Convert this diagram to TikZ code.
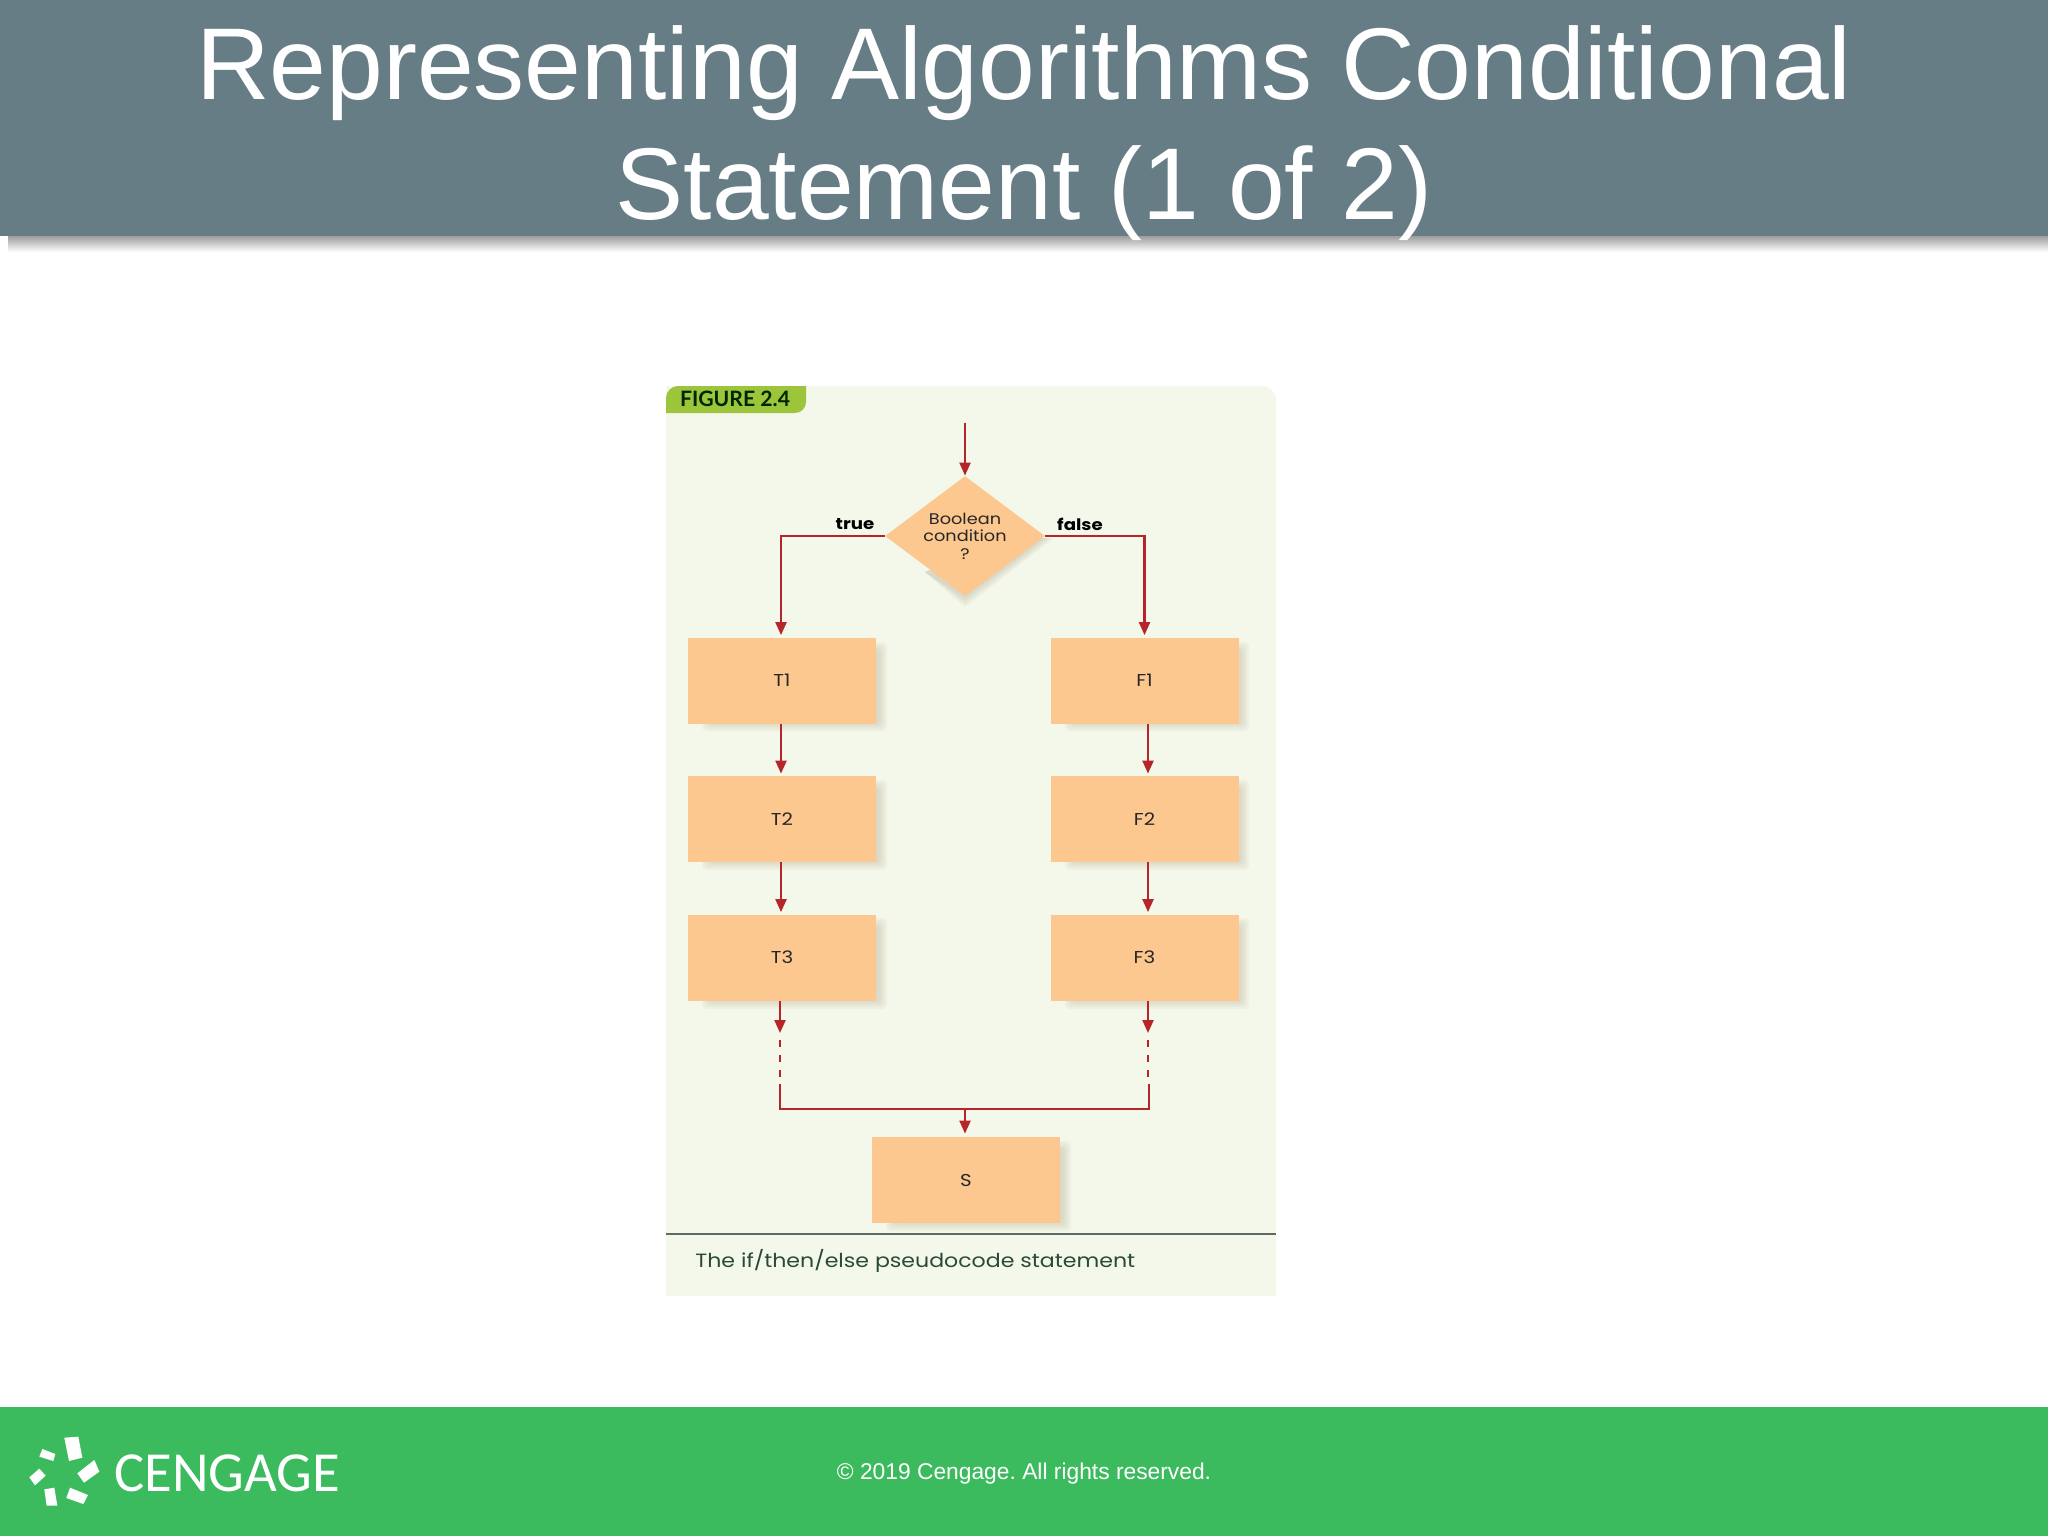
\documentclass[tikz,border=0pt]{standalone}
\usepackage{fontspec}
\setmainfont{Liberation Sans}
\newfontfamily\figfont[FakeStretch=1.15]{Poppins}
\newfontfamily\logofont{Carlito}
\newfontfamily\tabfont{Lato}
\usetikzlibrary{arrows.meta,shapes.geometric}
\definecolor{headerc}{HTML}{667D86}
\definecolor{footerc}{HTML}{3CBB5E}
\definecolor{panelc}{HTML}{F4F8EA}
\definecolor{tabc}{HTML}{9CC53C}
\definecolor{boxc}{HTML}{FCC88F}
\definecolor{redc}{HTML}{B5262B}
\definecolor{shadowc}{HTML}{B0A088}
\definecolor{capc}{HTML}{2A4A38}
\definecolor{rulec}{HTML}{5F6B62}
\tikzset{
  stepbox/.style={fill=boxc,minimum width=94pt,minimum height=43pt,inner sep=0pt,font=\figfont\fontsize{8.6}{10}\selectfont,text=black!85},
  decisionbox/.style={diamond,fill=boxc,aspect=1.333,minimum width=80pt,minimum height=60pt,inner sep=0pt,align=center,font=\figfont\fontsize{7.7}{8.75}\selectfont,text=black!85},
  flow/.style={draw=redc,line width=1.1pt,-{Triangle[length=6.5pt,width=5.5pt]}},
  plainflow/.style={draw=redc,line width=1.1pt},
  dashflow/.style={draw=redc,line width=1.1pt,dash pattern=on 3.5pt off 4pt},
  branchlabel/.style={font=\figfont\bfseries\fontsize{7.9}{9}\selectfont,text=black,inner sep=0pt},
  logomark/.style={fill=white,draw=none}
}
\newcommand\softshadow[4]{%
  \foreach \d in {0,2,4,6,8}{%
    \fill[shadowc,opacity=.08,rounded corners=2pt] (#1+22-\d,#2+12-\d) rectangle (#3+3+\d,#4+\d);
  }%
}
\begin{document}
\frenchspacing
\begin{tikzpicture}[x=0.5pt,y=-0.5pt]
\useasboundingbox (0,0) rectangle (2048,1536);
\fill[white] (0,0) rectangle (2048,1536);
% header
\fill[top color=black!38,bottom color=white] (8,236) rectangle (2048,252);
\fill[headerc] (0,0) rectangle (2048,236);
\node[text=white,align=center,inner sep=0pt,font=\fontsize{51}{60}\selectfont] (title) at (1024,133) {Representing Algorithms Conditional\\Statement (1 of 2)};
% footer
\fill[footerc] (0,1407) rectangle (2048,1536);
\node[text=white,inner sep=0pt,font=\fontsize{11.4}{14}\selectfont] (copy) at (1024,1474) {© 2019 Cengage. All rights reserved.};
\node[text=white,inner sep=0pt,anchor=west,font=\logofont\fontsize{28.3}{30}\selectfont] (brand) at (114,1473) {CENGAGE};
\fill[logomark] (193/3,1390+143/3) -- (235/3,1390+140/3) -- (247/3,1390+203/3) -- (207/3,1390+213/3) -- cycle;
\fill[logomark] (283/3,1390+210/3) -- (298/3,1390+245/3) -- (252/3,1390+278/3) -- (232/3,1390+250/3) -- cycle;
\fill[logomark] (127/3,1390+177/3) -- (166/3,1390+192/3) -- (160/3,1390+213/3) -- (118/3,1390+200/3) -- cycle;
\fill[logomark] (118/3,1390+236/3) -- (137/3,1390+257/3) -- (105/3,1390+286/3) -- (88/3,1390+262/3) -- cycle;
\fill[logomark] (133/3,1390+298/3) -- (163/3,1390+293/3) -- (172/3,1390+347/3) -- (140/3,1390+347/3) -- cycle;
\fill[logomark] (210/3,1390+293/3) -- (264/3,1390+315/3) -- (250/3,1390+342/3) -- (199/3,1390+324/3) -- cycle;
% panel
\fill[panelc] (666,1296) -- (666,386) -- (1262,386) to[out=0,in=90] (1276,400) -- (1276,1296) -- cycle;
\fill[tabc] (666,413) -- (666,398) to[out=90,in=180] (678,386) -- (806,386) -- (806,402) to[out=270,in=0] (795,413) -- cycle;
\node[inner sep=0pt,font=\tabfont\bfseries\fontsize{10.6}{12}\selectfont,text=black!85!green] (figlabel) at (735,399) {FIGURE 2.4};
\draw[rulec,line width=.8pt] (666,1234) -- (1276,1234);
\node[anchor=west,inner sep=0pt,font=\figfont\fontsize{9.6}{11}\selectfont,text=capc] (caption) at (695,1261) {The if/then/else pseudocode statement};
% shadows
\softshadow{688}{638}{876}{723}
\softshadow{688}{776}{876}{862}
\softshadow{688}{914}{876}{1001}
\softshadow{1051}{638}{1238}{723}
\softshadow{1051}{776}{1238}{862}
\softshadow{1051}{914}{1238}{1001}
\softshadow{872}{1137}{1060}{1223}
\foreach \d in {0,3,6,9}{%
  \fill[shadowc,opacity=.1] (1045+\d,538) -- (965,598+\d) -- (925,572) -- (1010,538) -- cycle;
}
% nodes
\node[decisionbox] (cond) at (965,536) {Boolean\\condition\\?};
\node[stepbox] (T1) at (782,680.5) {T1};
\node[stepbox] (T2) at (782,819) {T2};
\node[stepbox] (T3) at (782,957.5) {T3};
\node[stepbox] (F1) at (1144.5,680.5) {F1};
\node[stepbox] (F2) at (1144.5,819) {F2};
\node[stepbox] (F3) at (1144.5,957.5) {F3};
\node[stepbox] (S) at (966,1180) {S};
\node[branchlabel] (truelab) at (855,524) {true};
\node[branchlabel] (falselab) at (1080,524) {false};
% free ends
\coordinate (start) at (965,423);
\coordinate (tdA) at (780,1033);
\coordinate (tdB) at (780,1040);
\coordinate (tdC) at (780,1078);
\coordinate (tdD) at (780,1084);
\coordinate (fdA) at (1148,1033);
\coordinate (fdB) at (1148,1040);
\coordinate (fdC) at (1148,1078);
\coordinate (fdD) at (1149,1084);
\coordinate (tj) at (780,1109);
\coordinate (fj) at (1149,1109);
\coordinate (mj) at (965,1109);
% connectors
\draw[flow] (start) -- (cond.north);
\draw[flow] (cond.west) -| ([xshift=-0.5pt,yshift=1pt]T1.north);
\draw[flow] (cond.east) -| ([yshift=1pt]F1.north);
\draw[flow] ([xshift=-0.5pt]T1.south) -- ([xshift=-0.5pt,yshift=1pt]T2.north);
\draw[flow] ([xshift=-0.5pt]T2.south) -- ([xshift=-0.5pt,yshift=1pt]T3.north);
\draw[flow] ([xshift=1.75pt]F1.south) -- ([xshift=1.75pt,yshift=1pt]F2.north);
\draw[flow] ([xshift=1.75pt]F2.south) -- ([xshift=1.75pt,yshift=1pt]F3.north);
\draw[flow] (T3.south -| tdA) -- (tdA);
\draw[flow] (F3.south -| fdA) -- (fdA);
\draw[dashflow] (tdB) -- (tdC);
\draw[dashflow] (fdB) -- (fdC);
\draw[plainflow] (tdD) -- (tj) -- (fj) -- (fdD);
\draw[flow] (mj) -- ([yshift=1.5pt]mj |- S.north);
\end{tikzpicture}
\end{document}
